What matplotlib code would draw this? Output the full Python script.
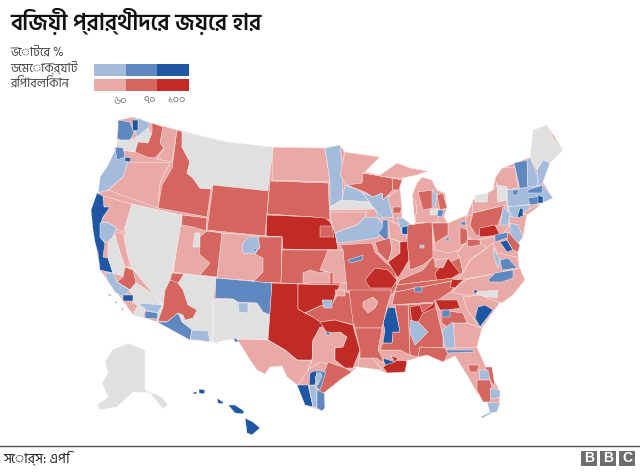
import matplotlib
matplotlib.use("Agg")
import matplotlib.pyplot as plt
from matplotlib.collections import PolyCollection
from matplotlib.colors import ListedColormap
from matplotlib.patches import Rectangle

plt.rcParams['font.family'] = ['Hind Siliguri', 'DejaVu Sans']

title = "বিজয়ী প্রার্থীদের জয়ের হার"
legend_head = "ভোটের %"
legend_dem = "ডেমোক্র্যাট"
legend_rep = "রিপাবলিকান"
legend_ticks = ["৬০", "৭০", "১০০"]
source = "সোর্স: এপি"

GREY, D1, D2, D3, R1, R2, R3 = range(7)
class_colors = ["#e0e0e0", "#a5bbdb", "#5f87c0", "#1f57a2", "#e9aaa7", "#d4665f", "#c02c25"]

regions = [
 (R1,[(118,120),(133,117),(152,123),(182,131),(227,142),(273,147),(325,148),(340,145),(345,152),(380,157),(365,172),(380,175),(397,163),(410,168),(428,171),(417,175),(403,178),(400,187),(402,226),(412,235),(415,223),(412,195),(417,183),(422,177),(432,180),(437,190),(445,193),(447,208),(444,217),(448,223),(467,215),(473,200),(493,190),(495,178),(502,168),(515,163),(530,157),(533,130),(547,125),(563,150),(550,163),(543,182),(553,198),(542,203),(527,215),(523,237),(517,245),(520,270),(525,280),(513,295),(500,303),(482,328),(477,347),(485,365),(498,387),(500,405),(492,413),(487,402),(477,393),(468,377),(455,356),(443,362),(427,355),(407,361),(405,372),(387,373),(378,370),(358,367),(340,380),(325,392),(325,408),(322,411),(305,405),(297,385),(287,377),(282,366),(270,367),(265,374),(257,370),(250,360),(237,339),(213,342),(190,340),(157,322),(145,318),(133,315),(123,301),(107,280),(100,270),(93,230),(91,210),(98,193),(108,165),(117,150),(117,138)]),
 (D2,[(118,120),(130,122),(134,133),(130,140),(122,141),(117,138),(118,130)]),
 (D1,[(138,118),(150,123),(145,137),(137,137),(134,128)]),
 (D3,[(132,120),(138,120),(138,130),(133,131)]),
 (GREY,[(117,140),(130,140),(137,137),(148,128),(152,135),(148,143),(135,152),(120,150)]),
 (R1,[(163,126),(177,130),(172,162),(157,159),(164,148),(160,143)]),
 (R2,[(152,123),(163,127),(160,143),(164,148),(155,158),(147,157),(135,152),(138,142),(148,143),(152,133)]),
 (D1,[(115,150),(130,162),(123,177),(108,190),(98,193),(100,177),(108,165)]),
 (R1,[(128,162),(170,163),(160,183),(158,208),(108,190),(123,177)]),
 (D2,[(115,147),(123,148),(125,157),(117,160)]),
 (D3,[(125,157),(131,158),(130,162),(125,161)]),
 (R2,[(177,130),(183,132),(182,147),(190,162),(187,173),(193,178),(200,188),(211,189),(207,217),(158,208),(162,185),(172,168)]),
 (GREY,[(182,132),(227,142),(273,147),(269,180),(267,191),(213,185),(211,189),(200,188),(193,178),(187,173),(190,162),(182,147)]),
 (R2,[(213,185),(269,191),(265,236),(207,230)]),
 (R1,[(273,147),(325,148),(330,182),(272,180)]),
 (R2,[(270,181),(328,183),(330,220),(313,217),(267,214)]),
 (R3,[(267,215),(313,217),(325,218),(330,222),(335,232),(338,250),(283,249),(282,237),(266,236)]),
 (R2,[(320,226),(332,226),(334,237),(320,237)]),
 (R1,[(220,233),(282,237),(281,283),(217,278)]),
 (D1,[(248,237),(258,237),(260,247),(255,254),(243,253),(242,245)]),
 (R2,[(258,237),(282,237),(281,283),(253,282),(263,272),(263,258),(255,254),(260,247)]),
 (D3,[(254,249),(256,249),(256,251),(254,251)]),
 (R1,[(182,215),(207,218),(206,231),(222,233),(217,278),(200,276),(173,272)]),
 (R2,[(182,215),(207,218),(206,231),(193,227),(182,225)]),
 (R2,[(207,231),(222,233),(217,277),(200,275),(210,263),(200,255),(198,238)]),
 (GREY,[(195,233),(200,233),(200,247),(193,247)]),
 (GREY,[(132,204),(182,215),(173,272),(170,285),(165,300),(163,305),(150,290),(132,268),(125,245),(125,227)]),
 (R1,[(103,196),(132,204),(125,227),(123,232),(115,228),(107,222),(101,223),(103,217),(110,207),(104,207)]),
 (D3,[(97,193),(103,196),(104,207),(110,207),(103,217),(101,223),(100,237),(105,243),(103,257),(108,258),(113,273),(100,270),(98,253),(95,242),(93,230),(91,210)]),
 (D1,[(100,223),(107,222),(117,228),(112,238),(105,243),(100,237)]),
 (GREY,[(108,243),(115,235),(125,267),(132,268),(128,278),(113,273),(108,258)]),
 (R1,[(115,233),(123,233),(130,267),(125,267),(117,243)]),
 (R2,[(125,267),(133,270),(136,283),(130,290),(117,282),(123,277)]),
 (D1,[(105,273),(113,273),(117,282),(130,290),(123,297),(115,292),(107,280)]),
 (GREY,[(130,290),(136,283),(150,292),(163,305),(145,308),(137,307),(133,300)]),
 (D3,[(123,295),(133,295),(133,301),(123,301)]),
 (D1,[(138,303),(162,305),(159,313),(145,310)]),
 (D2,[(145,311),(158,313),(159,319),(145,318)]),
 (R2,[(132,302),(138,307),(135,307)]),
 (GREY,[(137,307),(145,308),(143,318),(133,315)]),
 (GREY,[(184,274),(217,278),(213,299),(213,342),(197,340),(157,322),(158,312),(165,303),(170,287)]),
 (R2,[(172,273),(184,274),(179,282),(173,287),(170,280)]),
 (R2,[(170,280),(178,283),(183,290),(188,305),(197,310),(193,318),(185,320),(183,315),(178,313),(167,322),(158,321),(163,307),(165,290)]),
 (D2,[(157,322),(167,322),(178,313),(182,322),(192,330),(190,340)]),
 (D1,[(192,330),(208,331),(210,342),(197,340),(190,340)]),
 (GREY,[(213,299),(233,299),(238,303),(257,303),(263,312),(270,315),(268,340),(237,339),(230,340),(218,340),(218,344),(213,342)]),
 (D2,[(216,278),(272,283),(270,315),(263,312),(257,303),(238,302),(233,299),(215,298)]),
 (D1,[(238,303),(248,303),(248,313),(239,312)]),
 (D2,[(233,338),(238,339),(239,342),(235,342)]),
 (R3,[(272,283),(298,284),(298,309),(305,313),(313,317),(330,318),(330,323),(313,340),(312,360),(297,360),(285,350),(268,340)]),
 (R1,[(237,339),(268,340),(285,350),(297,360),(312,361),(308,370),(300,383),(297,385),(287,377),(282,366),(270,367),(265,374),(257,370),(250,360)]),
 (R3,[(298,284),(340,285),(335,295),(333,303),(320,306),(305,313),(298,309)]),
 (R2,[(305,313),(320,306),(333,303),(340,290),(355,295),(355,325),(335,320),(320,322),(313,317)]),
 (D1,[(322,300),(332,300),(332,308),(324,308)]),
 (R1,[(335,290),(345,290),(345,296),(337,296)]),
 (R1,[(313,340),(320,327),(333,327),(340,332),(347,337),(343,347),(335,348),(335,360),(345,368),(358,367),(360,350),(372,358),(383,370),(357,367),(345,370),(330,365),(320,362),(308,370),(312,361)]),
 (R3,[(320,322),(335,320),(353,325),(355,333),(360,350),(353,368),(345,368),(335,360),(335,348),(343,347),(347,337),(340,332),(327,333)]),
 (D2,[(326,332),(330,332),(330,335),(326,335)]),
 (R2,[(328,362),(345,368),(352,372),(340,380),(325,392),(318,395),(320,378),(325,370)]),
 (D3,[(297,385),(308,385),(313,407),(305,405)]),
 (D3,[(310,373),(317,370),(315,385),(309,385)]),
 (D1,[(309,386),(315,385),(317,390),(317,408),(313,407)]),
 (D2,[(317,370),(326,372),(320,390),(317,388)]),
 (D1,[(315,377),(320,372),(322,376),(318,385)]),
 (D2,[(317,390),(324,393),(325,408),(322,411),(317,408)]),
 (R2,[(282,250),(338,250),(342,258),(341,285),(281,283)]),
 (R1,[(303,283),(303,273),(310,270),(320,273),(330,270),(330,283)]),
 (R1,[(328,250),(343,250),(347,272),(347,283),(333,283),(333,273),(320,270)]),
 (R2,[(340,245),(372,243),(375,252),(385,262),(395,270),(397,285),(392,295),(347,290),(343,250)]),
 (D2,[(348,260),(363,255),(362,260),(350,263)]),
 (R3,[(365,280),(375,268),(388,270),(397,280),(392,288),(370,288)]),
 (R1,[(330,212),(367,212),(365,217),(357,225),(335,233),(332,225)]),
 (D1,[(335,233),(357,225),(365,217),(378,218),(383,225),(383,232),(377,238),(340,243),(337,242)]),
 (D1,[(325,148),(340,145),(343,173),(342,200),(330,207),(330,181)]),
 (R1,[(345,152),(380,157),(365,172),(362,183),(348,187),(340,175)]),
 (GREY,[(330,207),(342,200),(372,202),(375,209),(330,210)]),
 (D1,[(345,185),(362,192),(373,207),(385,218),(378,218),(375,209),(372,202),(342,200)]),
 (R2,[(347,185),(362,183),(363,173),(392,178),(393,190),(383,200),(382,193),(373,197),(365,192)]),
 (D1,[(362,192),(373,197),(382,193),(383,200),(388,195),(393,217),(383,218),(373,207)]),
 (R1,[(388,198),(400,187),(402,207),(402,226),(393,225),(393,217)]),
 (R2,[(392,178),(402,180),(399,190),(393,190)]),
 (R2,[(393,207),(402,207),(400,213),(393,213)]),
 (D2,[(383,220),(388,220),(388,242),(378,233),(382,228)]),
 (R1,[(388,220),(402,226),(408,241),(400,242),(390,238)]),
 (R1,[(365,172),(380,175),(397,163),(410,168),(428,171),(417,175),(403,178),(392,178),(363,173)]),
 (R1,[(417,183),(422,177),(432,180),(437,190),(445,193),(447,208),(438,210),(438,222),(415,223),(417,207),(412,195)]),
 (R2,[(418,192),(433,190),(433,208),(423,210)]),
 (R2,[(437,195),(443,193),(447,208),(440,210)]),
 (D1,[(432,190),(437,195),(435,207),(432,207)]),
 (GREY,[(430,210),(438,208),(438,215),(430,215)]),
 (D2,[(438,210),(444,210),(442,217),(437,216)]),
 (D1,[(397,218),(403,218),(412,225),(412,235),(402,234)]),
 (D3,[(402,227),(412,225),(412,235),(402,234)]),
 (R2,[(375,242),(390,238),(392,250),(388,262),(378,252)]),
 (R1,[(390,238),(400,242),(400,253),(388,262),(392,250)]),
 (R3,[(388,262),(400,253),(400,242),(408,241),(409,260),(403,270),(398,278),(393,270)]),
 (R2,[(408,225),(432,222),(433,257),(423,265),(410,270),(407,240)]),
 (D1,[(420,245),(424,245),(424,248),(420,248)]),
 (R1,[(432,223),(448,223),(467,215),(468,238),(460,250),(447,253),(435,250),(433,238)]),
 (R2,[(432,223),(448,223),(448,235),(435,243)]),
 (R2,[(460,227),(468,230),(467,243),(460,245)]),
 (D2,[(461,222),(466,221),(466,225),(461,225)]),
 (D2,[(446,238),(449,238),(449,241),(446,241)]),
 (R2,[(400,280),(423,270),(433,257),(437,267),(460,258),(463,273),(453,278),(397,285)]),
 (R3,[(435,273),(448,258),(460,273),(452,278),(437,281)]),
 (R1,[(435,260),(448,258),(443,268),(435,267)]),
 (R2,[(395,292),(457,280),(463,278),(450,292),(435,302),(392,305)]),
 (R2,[(397,285),(453,278),(457,280),(395,292)]),
 (D2,[(414,287),(422,287),(422,292),(415,292)]),
 (R3,[(452,280),(465,278),(455,288),(450,287)]),
 (R1,[(457,253),(468,240),(477,240),(487,248),(470,260),(463,273),(460,258)]),
 (R2,[(467,240),(480,238),(480,245),(468,247)]),
 (R1,[(463,273),(470,260),(487,248),(493,243),(497,253),(517,257),(520,270),(457,280)]),
 (D1,[(493,247),(500,260),(498,268),(495,260)]),
 (D2,[(500,260),(508,258),(517,268),(502,270)]),
 (R1,[(452,292),(465,280),(520,268),(525,280),(513,295),(502,303),(490,300),(483,295),(463,295)]),
 (D2,[(488,280),(495,273),(513,270),(513,278),(502,282),(490,282)]),
 (GREY,[(477,292),(498,290),(497,298),(477,295)]),
 (D3,[(474,290),(477,290),(477,293),(474,293)]),
 (R1,[(463,297),(480,295),(500,303),(480,327),(467,310)]),
 (D3,[(478,307),(485,305),(493,310),(487,318),(480,327),(475,318)]),
 (R1,[(453,323),(467,323),(482,328),(477,347),(453,348)]),
 (R2,[(440,310),(463,313),(467,323),(453,323),(447,327),(442,323)]),
 (R3,[(435,300),(445,300),(457,300),(460,308),(448,310),(440,310)]),
 (D2,[(442,310),(450,310),(450,317),(442,317)]),
 (D1,[(442,330),(453,322),(455,348),(445,348)]),
 (R2,[(408,305),(435,303),(443,337),(443,348),(420,347),(418,357),(410,355)]),
 (R3,[(410,307),(420,305),(422,312),(432,305),(435,300),(435,308),(423,313),(418,322),(412,323)]),
 (D1,[(410,320),(418,322),(428,332),(420,340),(415,345),(410,333)]),
 (R2,[(395,305),(408,305),(410,355),(400,350),(380,350),(383,343),(392,343),(393,332),(400,332)]),
 (D3,[(388,307),(395,308),(400,332),(393,332),(392,343),(383,343),(385,330),(383,323)]),
 (R2,[(349,290),(392,290),(387,307),(382,328),(355,328),(353,322)]),
 (R1,[(363,302),(373,297),(378,302),(375,308),(368,313),(363,307)]),
 (R2,[(355,328),(382,328),(378,350),(382,357),(383,363),(377,358),(360,358),(360,350),(357,337)]),
 (R3,[(383,367),(393,360),(407,361),(405,372),(387,373)]),
 (D3,[(383,358),(395,362),(385,365)]),
 (R3,[(391,356),(398,358),(395,362)]),
 (R2,[(420,347),(445,348),(448,353),(445,360),(443,362),(427,355),(418,357)]),
 (D2,[(446,350),(473,350),(474,352),(448,353)]),
 (R2,[(468,365),(479,365),(477,372),(470,372)]),
 (R2,[(485,367),(492,367),(495,387),(490,380)]),
 (D1,[(479,370),(488,370),(490,380),(480,380)]),
 (R2,[(477,380),(490,380),(492,388),(490,402),(483,402),(477,390)]),
 (D1,[(490,388),(500,390),(500,397),(491,399)]),
 (D1,[(487,402),(500,403),(497,412),(490,413)]),
 (D1,[(480,417),(490,412),(492,413),(483,418)]),
 (R1,[(465,217),(507,204),(510,225),(502,235),(478,240),(468,238)]),
 (R2,[(473,213),(505,205),(498,225),(483,228),(477,237),(470,225)]),
 (R3,[(480,228),(495,225),(500,235),(479,237)]),
 (D1,[(503,207),(510,213),(508,225),(500,225)]),
 (R1,[(473,200),(493,190),(497,185),(495,178),(502,168),(515,167),(518,188),(507,190),(507,205),(472,213)]),
 (GREY,[(497,185),(507,187),(507,200),(498,202)]),
 (GREY,[(475,195),(488,193),(487,202),(475,202)]),
 (D1,[(507,190),(518,188),(522,210),(527,212),(510,217),(507,205)]),
 (D2,[(514,163),(527,160),(528,188),(520,189)]),
 (D1,[(527,160),(530,157),(538,177),(538,188),(528,188)]),
 (GREY,[(533,130),(547,125),(553,138),(563,150),(550,163),(543,160),(537,170),(530,157)]),
 (D1,[(537,170),(543,160),(550,163),(543,182),(538,188),(538,177)]),
 (D1,[(507,190),(543,185),(553,198),(542,203),(508,207)]),
 (D2,[(528,190),(543,185),(542,193),(528,193)]),
 (D2,[(528,198),(542,196),(543,203),(530,205)]),
 (D3,[(538,195),(543,197),(543,203),(538,203)]),
 (D2,[(512,190),(519,190),(517,195),(513,195)]),
 (D1,[(508,207),(530,205),(528,213),(513,218)]),
 (D3,[(520,208),(523,209),(523,216),(517,218)]),
 (R1,[(523,213),(540,203),(537,208),(527,215)]),
 (D1,[(510,223),(518,225),(523,237),(517,245),(510,237)]),
 (D3,[(500,242),(507,240),(513,250),(507,252)]),
 (D2,[(495,235),(508,232),(507,238),(495,242)]),
 (R2,[(508,232),(520,245),(518,252),(513,250),(507,240)]),
 (GREY,[(112,350),(128,343),(145,350),(145,390),(162,397),(168,405),(163,409),(150,393),(133,392),(117,407),(100,410),(97,405),(108,397),(102,383),(108,373),(105,362)]),
 (D3,[(245,418),(253,422),(260,428),(252,435),(247,433)]),
 (D3,[(228,405),(235,405),(244,411),(243,414),(235,413)]),
 (D3,[(217,398),(223,402),(223,404),(218,403)]),
 (D3,[(199,389),(205,390),(204,394),(199,393)]),
 (D3,[(194,392),(197,392),(196,394),(193,394)]),
 (D1,[(107,293),(112,295),(110,297)]),
 (D1,[(114,301),(118,302),(116,304)]),
 (D1,[(121,307),(124,309),(122,311)]),
]

region_classes = [r[0] for r in regions]
region_outlines = [r[1] for r in regions]

fig = plt.figure(figsize=(6.4, 4.72), dpi=100)
ax = fig.add_axes([0, 0, 1, 1])
ax.set_xlim(0, 640)
ax.set_ylim(472, 0)
ax.axis("off")

cmap = ListedColormap(class_colors)
pc = PolyCollection(region_outlines, array=region_classes, cmap=cmap, clim=(-0.5, 6.5),
                    edgecolors="white", linewidths=0.3, antialiaseds=True)
ax.add_collection(pc)

ax.text(10, 21, title, fontsize=16.4, color="#111111", va="center", ha="left", fontweight="semibold")
ax.text(10, 52, legend_head, fontsize=9, color="#444444", va="center")
ax.text(10, 68, legend_dem, fontsize=9, color="#444444", va="center")
ax.text(10, 84, legend_rep, fontsize=9, color="#444444", va="center")
for i, c in enumerate([D1, D2, D3]):
    ax.add_patch(Rectangle((94 + i * 31.5, 64), 31.5, 12, fc=class_colors[c], ec="none"))
for i, c in enumerate([R1, R2, R3]):
    ax.add_patch(Rectangle((94 + i * 31.5, 79), 31.5, 12, fc=class_colors[c], ec="none"))
for x, t in zip([120, 150, 177], legend_ticks):
    ax.text(x, 100, t, fontsize=8, color="#777777", va="center", ha="center")

ax.plot([0, 639], [446, 446], color="#555555", lw=1)
ax.text(3, 458, source, fontsize=10, color="#222222", va="center")
for x0, ch in zip([581, 600, 619], "BBC"):
    ax.add_patch(Rectangle((x0, 451), 16, 15, fc="#6e6e6e", ec="none"))
    ax.text(x0 + 8, 458.5, ch, fontsize=10, color="white", fontweight="bold", ha="center", va="center", family="Liberation Sans")

fig.savefig("out.png", dpi=100)
